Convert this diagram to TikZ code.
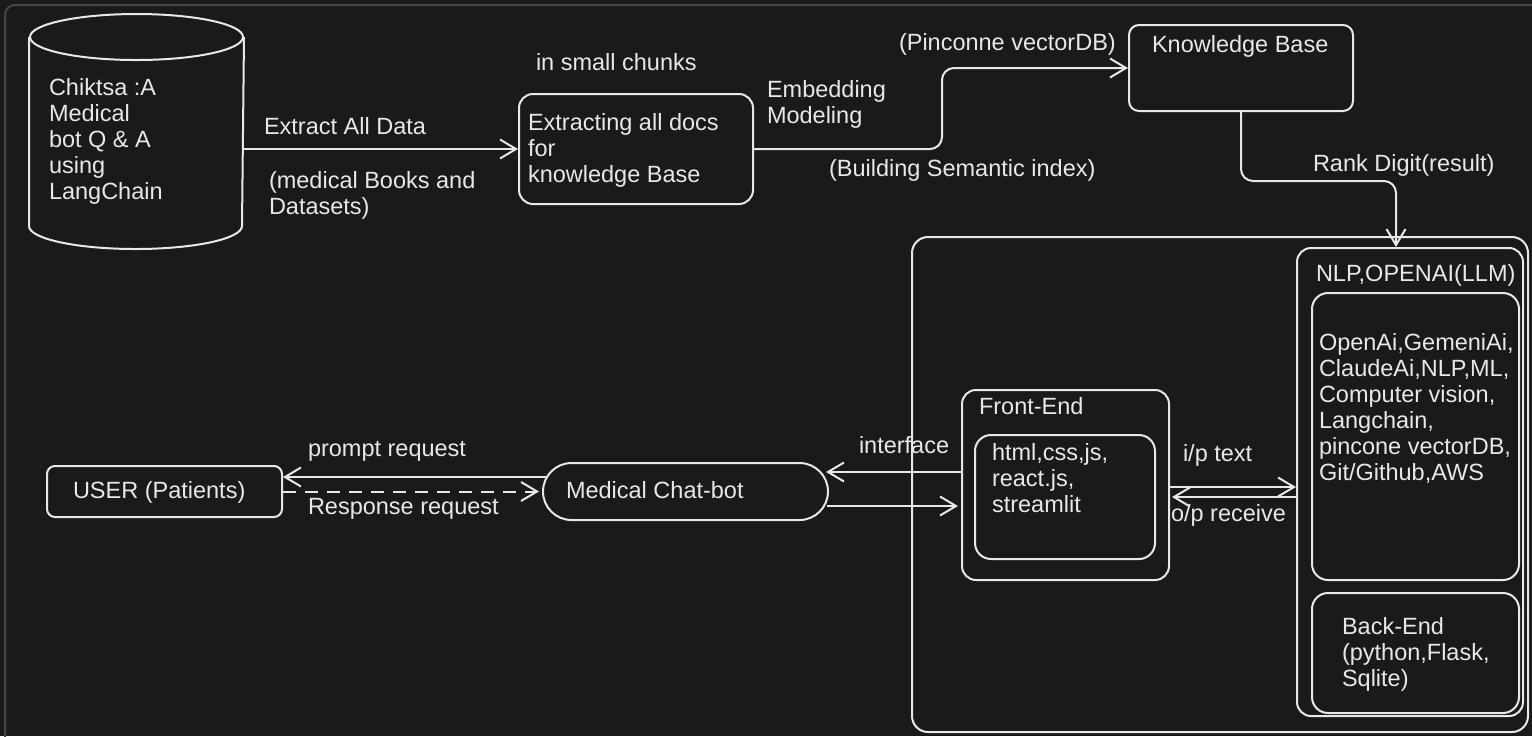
\documentclass[tikz,border=0pt]{standalone}
\usepackage{fontspec}
\setmainfont{Liberation Sans}
\usetikzlibrary{arrows.meta}
\definecolor{bgc}{HTML}{1A1A1A}
\definecolor{ink}{HTML}{E8E8E8}
\definecolor{rim}{HTML}{474747}

\begin{document}
\begin{tikzpicture}[x=0.5pt, y=-0.5pt, line width=1pt, color=ink, >={Straight Barb[length=8pt,width=9.5pt]}]
                \useasboundingbox (0,0) rectangle (1532,736);
                \fill[bgc] (0,0) rectangle (1532,736);
                \draw[rim, rounded corners=5pt] (5,760) -- (5,5) -- (1560,5);
                % data store
                \node[minimum width=106.5pt, minimum height=116.5pt, inner sep=0pt] (db) at (136.5,131.5) {};
                \draw ([yshift=-11.5pt]db.north) ellipse[x radius=53.25pt, y radius=11.5pt];
                \draw ([yshift=-11.5pt]db.north west) -- ([yshift=11.5pt]db.south west)
                      arc[start angle=180, end angle=360, x radius=53.25pt, y radius=11.5pt]
                      -- ([yshift=-11.5pt]db.north east);
                \begin{scope}[every node/.style={draw, rounded corners=7pt, inner sep=0pt}]
                \node[minimum width=117pt, minimum height=55pt] (docs) at (636,149) {};
                \node[minimum width=112pt, minimum height=43pt, rounded corners=5pt] (kb) at (1241,68) {};
                \node[minimum width=117.5pt, minimum height=25.5pt, rounded corners=4pt] (user) at (164.5,491.5) {};
                \node[minimum width=142.5pt, minimum height=28.5pt, rounded corners=14.25pt] (bot) at (685.5,491.5) {};
                \node[minimum width=308pt, minimum height=247.5pt, rounded corners=8pt] (app) at (1220,484.5) {};
                \node[minimum width=103.5pt, minimum height=95pt] (front) at (1065.5,485) {};
                \node[minimum width=90pt, minimum height=62pt, rounded corners=8pt] (web) at (1065,497) {};
                \node[minimum width=113pt, minimum height=234pt] (nlp) at (1410,482) {};
                \node[minimum width=103.5pt, minimum height=143.5pt, rounded corners=8pt] (llm) at (1415.5,436.5) {};
                \node[minimum width=103.5pt, minimum height=60pt, rounded corners=8pt] (back) at (1415.5,653) {};
                \end{scope}
                \begin{scope}[every node/.style={anchor=north west, inner sep=0pt, align=left,
                      font=\fontsize{11.75}{13}\selectfont, execute at begin node=\strut}]
                \node (dbtext) at (48,77) {Chiktsa :A\\Medical\\bot Q \& A\\using\\LangChain};
                \node (extract) at (263,115) {Extract All Data};
                \node (books) at (268,170) {(medical Books and\\Datasets)};
                \node (chunks) at (535,51) {in small chunks};
                \node (docstext) at (527,112) {Extracting all docs\\for\\knowledge Base};
                \node (embed) at (766,79) {Embedding\\Modeling};
                \node (index) at (828,157) {(Building Semantic index)};
                \node (vdb) at (898,31) {(Pinconne vectorDB)};
                \node (kbtext) at (1151,33) {Knowledge Base};
                \node (rank) at (1312,152) {Rank Digit(result)};
                \node (nlptext) at (1315,262) {NLP,OPENAI(LLM)};
                \node (llmtext) at (1318,332) {OpenAi,GemeniAi,\\ClaudeAi,NLP,ML,\\Computer vision,\\Langchain,\\pincone vectorDB,\\Git/Github,AWS};
                \node (backtext) at (1341,616) {Back-End\\(python,Flask,\\Sqlite)};
                \node (fronttext) at (978,395) {Front-End};
                \node (webtext) at (991,442) {html,css,js,\\react.js,\\streamlit};
                \node (iptext) at (1182,442) {i/p text};
                \node (optext) at (1170,502) {o/p receive};
                \node (iface) at (858,434) {interface};
                \node (bottext) at (565,479) {Medical Chat-bot};
                \node (usertext) at (72,479) {USER (Patients)};
                \node (prompt) at (307,437) {prompt request};
                \node (response) at (307,495) {Response request};
                \end{scope}
                \begin{scope}[every edge/.style={draw, ->}]
                \draw (db.east |- docs.west) edge (docs.west);
                \draw[->, rounded corners=6pt] (docs.east) -| ([xshift=-93pt]kb.west) -- (kb.west);
                \draw[->, rounded corners=6pt] (kb.south) -- ++(0,69) -| ([xshift=-7pt]nlp.north);
                \draw ([yshift=6.5pt]front.west) edge ([xshift=-1.5pt,yshift=9.75pt]bot.east);
                \draw ([xshift=-1pt,yshift=-7.25pt]bot.east) edge ([xshift=-1.5pt,yshift=-10.5pt]front.west);
                \draw ([yshift=-1pt]front.east) edge ([yshift=-2.5pt]nlp.west);
                \draw ([yshift=-7.5pt]nlp.west) edge ([xshift=1pt,yshift=-6pt]front.east);
                \draw ([xshift=2pt,yshift=7.25pt]bot.west) edge ([yshift=7.25pt]user.east);
                \draw[dash pattern=on 6.5pt off 4.5pt] (user.east) edge ([xshift=-1.5pt]bot.west);
                \end{scope}
                \end{tikzpicture}
\end{document}
